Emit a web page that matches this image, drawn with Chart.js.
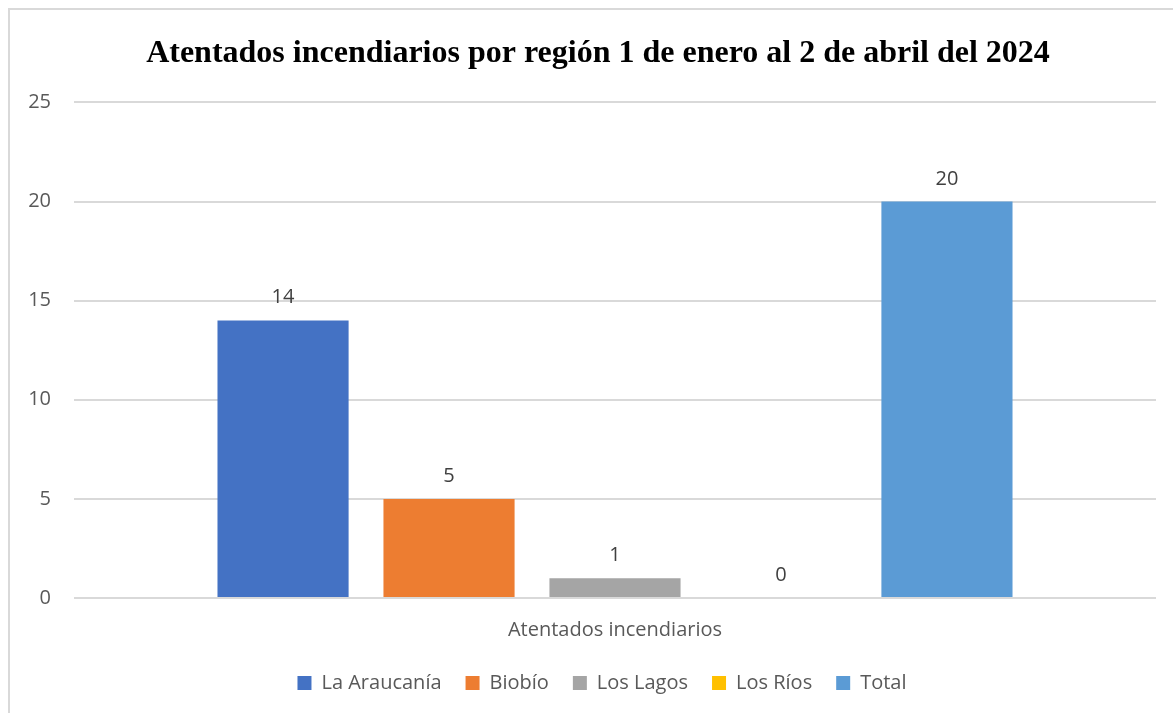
<!DOCTYPE html>
<html>
<head>
<meta charset="utf-8">
<script src="https://cdn.jsdelivr.net/npm/chart.js@4"></script>
<style>
  html, body { margin: 0; padding: 0; background: #fff; overflow: hidden; }
  #wrap { position: relative; width: 1173px; height: 713px; }
  #frame { position: absolute; left: 8px; top: 8px; width: 1300px; height: 800px; border: 2px solid #d9d9d9; }
  #chart { position: absolute; left: 0; top: 0; }
</style>
</head>
<body>
<div id="wrap">
  <div id="frame"></div>
  <canvas id="chart" width="1173" height="713"></canvas>
</div>
<script>
// datos del gráfico
const categories = ["Atentados incendiarios"];
const regiones = ["La Araucanía", "Biobío", "Los Lagos", "Los Ríos", "Total"];
const valores = [14, 5, 1, 0, 20];
const colores = ["#4472C4", "#ED7D31", "#A5A5A5", "#FFC000", "#5B9BD5"];
const yTicks = [0, 5, 10, 15, 20, 25];

const FONT = "'Open Sans', 'Liberation Sans', sans-serif";

// etiquetas de valor sobre cada barra
const valueLabels = {
  id: "valueLabels",
  afterDatasetsDraw(chart) {
    const ctx = chart.ctx;
    ctx.save();
    ctx.font = "20px " + FONT;
    ctx.fillStyle = "#404040";
    ctx.textAlign = "center";
    ctx.textBaseline = "alphabetic";
    chart.data.datasets.forEach((ds, i) => {
      const meta = chart.getDatasetMeta(i);
      meta.data.forEach((bar, j) => {
        ctx.fillText(String(ds.data[j]), bar.x, bar.y - 17);
      });
    });
    ctx.restore();
  },
};

// ajustar título y leyenda como en el original
const boxShift = {
  id: "boxShift",
  afterLayout(chart) {
    const t = chart.titleBlock;
    if (t) { t.left += 20; t.right += 20; }
    const l = chart.legend;
    if (l) { l.left += 24; l.right += 24; l.top -= 13; l.bottom -= 13; }
  },
};

new Chart(document.getElementById("chart"), {
  type: "bar",
  data: {
    labels: categories,
    datasets: regiones.map((r, i) => ({
      label: r,
      data: [valores[i]],
      backgroundColor: colores[i],
      borderWidth: 0,
      categoryPercentage: 0.767,
      barPercentage: 0.79,
    })),
  },
  options: {
    responsive: false,
    animation: false,
    layout: { padding: { top: 10, left: 0, right: 17, bottom: -3 } },
    plugins: {
      title: {
        display: true,
        text: "Atentados incendiarios por región 1 de enero al 2 de abril del 2024",
        color: "#000",
        font: { family: "'Liberation Serif', 'Times New Roman', serif", size: 32, weight: "bold" },
        padding: { top: 25, bottom: 29 },
      },
      legend: {
        position: "bottom",
        labels: {
          boxWidth: 14,
          boxHeight: 14,
          padding: 24,
          color: "#595959",
          font: { family: FONT, size: 20 },
        },
      },
      tooltip: { enabled: false },
    },
    scales: {
      x: {
        grid: { display: false, drawTicks: false },
        border: { display: false },
        ticks: { color: "#595959", font: { family: FONT, size: 20 }, padding: 20 },
      },
      y: {
        min: 0,
        max: 25,
        afterFit(scale) { scale.width = 74; },
        afterBuildTicks(scale) { scale.ticks = yTicks.map((v) => ({ value: v })); },
        grid: { color: "#d9d9d9", lineWidth: 2, drawTicks: false },
        border: { display: false },
        ticks: { color: "#595959", font: { family: FONT, size: 20 }, padding: 23 },
      },
    },
  },
  plugins: [valueLabels, boxShift],
});
</script>
</body>
</html>
